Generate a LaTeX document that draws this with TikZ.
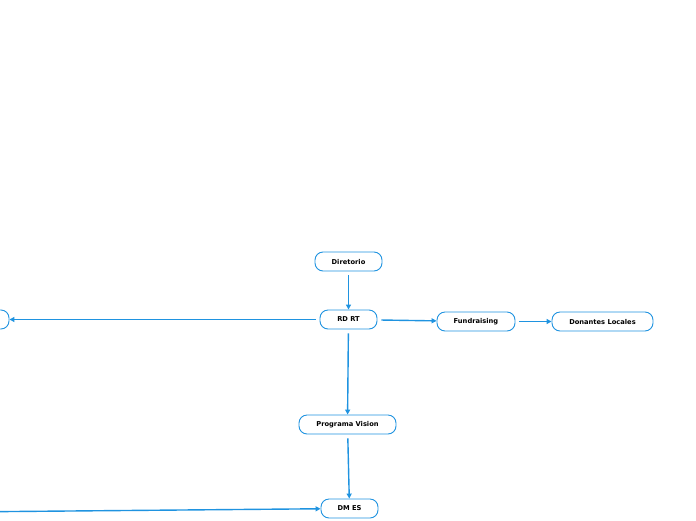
\documentclass[tikz,border=0pt]{standalone}
\usepackage{fontspec}
\setmainfont{DejaVu Sans}
\usetikzlibrary{arrows.meta}
\definecolor{lnk}{HTML}{1F93E0}
\begin{document}
\begin{tikzpicture}[x=1pt,y=-1pt,
  box/.style={draw=lnk, line width=0.9pt, rounded corners=8pt, minimum height=19pt, inner sep=0pt, fill=white,
    font=\bfseries\fontsize{6.7}{7}\selectfont},
  conn/.style={draw=lnk, line width=1.4pt, -{Triangle[length=5pt,width=5pt]}, shorten <=4pt}]
\useasboundingbox (0,0) rectangle (696,520);
\node[box, minimum width=67pt] (dir) at (348.5,261.5) {Diretorio};
\node[box, minimum width=57pt] (rd) at (348.5,319.5) {RD RT};
\node[box, minimum width=78pt] (fund) at (476,321.5) {Fundraising};
\node[box, minimum width=101pt] (don) at (602.5,321.5) {Donantes Locales};
\node[box, minimum width=97pt] (prog) at (347.5,424.5) {Programa Vision};
\node[box, minimum width=57pt] (dm) at (349.5,508.5) {DM ES};
\node[box, minimum width=70pt] (left) at (-26,319.5) {};
\coordinate (src) at (-200,513.4);
\draw[conn] (dir) -- (rd);
\draw[conn] (rd) -- (left);
\draw[conn] (rd) -- (fund);
\draw[conn] (fund) -- (don);
\draw[conn] (rd) -- (prog);
\draw[conn] (prog) -- (dm);
\draw[conn] (src) -- (dm);
\end{tikzpicture}
\end{document}
